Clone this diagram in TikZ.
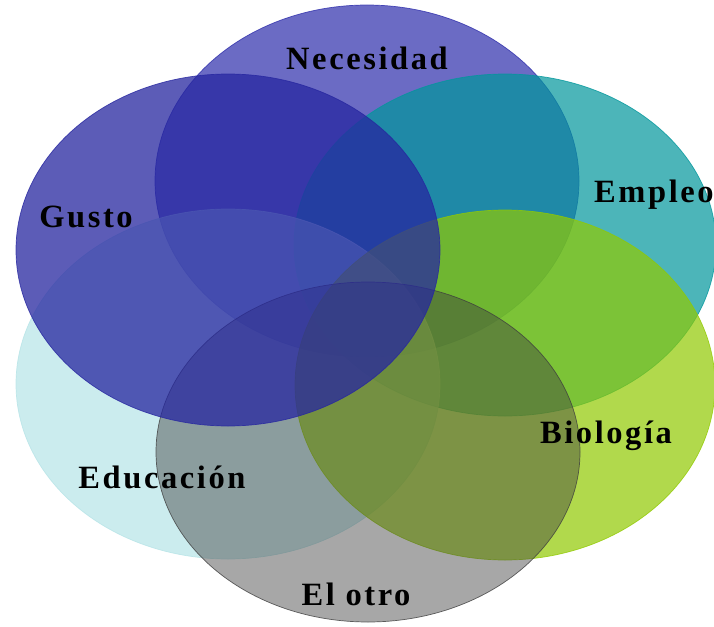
\documentclass[tikz,border=0pt]{standalone}
\usepackage{fontspec}
\newfontfamily\labfont[LetterSpace=8]{Liberation Serif}
\definecolor{cGusto}{RGB}{38,38,160}
\definecolor{cNec}{RGB}{45,45,171}
\definecolor{cEmp}{RGB}{0,151,156}
\definecolor{cBio}{RGB}{145,202,0}
\definecolor{cEdu}{RGB}{182,228,231}
\definecolor{cOtro}{RGB}{62,62,62}
\tikzset{
  venn/.style={fill=#1, draw=#1, line width=0.7pt, draw opacity=0.8},
  lab/.style={font=\labfont\bfseries\fontsize{32.5}{36}\selectfont, text=black, inner sep=0pt, anchor=base}
}
\begin{document}
\begin{tikzpicture}[x=1pt,y=-1pt]
\useasboundingbox (0,0) rectangle (714,626);
\fill[white] (0,0) rectangle (714,626);
\begin{scope}
\clip (0,0) rectangle (714,626);
\path[venn=cNec, fill opacity=0.7]   (367,181) ellipse [x radius=212pt, y radius=176pt];
\path[venn=cEmp, fill opacity=0.7]   (505,245) ellipse [x radius=211pt, y radius=171pt];
\path[venn=cEdu, fill opacity=0.7]   (228,384) ellipse [x radius=212pt, y radius=175pt];
\path[venn=cBio, fill opacity=0.7]   (505,385) ellipse [x radius=210pt, y radius=175pt];
\path[venn=cOtro, fill opacity=0.45] (368,452) ellipse [x radius=212pt, y radius=170pt];
\path[venn=cGusto, fill opacity=0.75](228,250) ellipse [x radius=212pt, y radius=176pt];
\end{scope}
\node[lab] (nec) at (367,70) {Necesidad};
\node[lab] (gus) at (86,227) {Gusto};
\node[lab] (emp) at (654,202) {Empleo};
\node[lab] (bio) at (606,443) {Biología};
\node[lab] (edu) at (162,488) {Educación};
\node[lab] (otr) at (356,605) {El otro};
\end{tikzpicture}
\end{document}
